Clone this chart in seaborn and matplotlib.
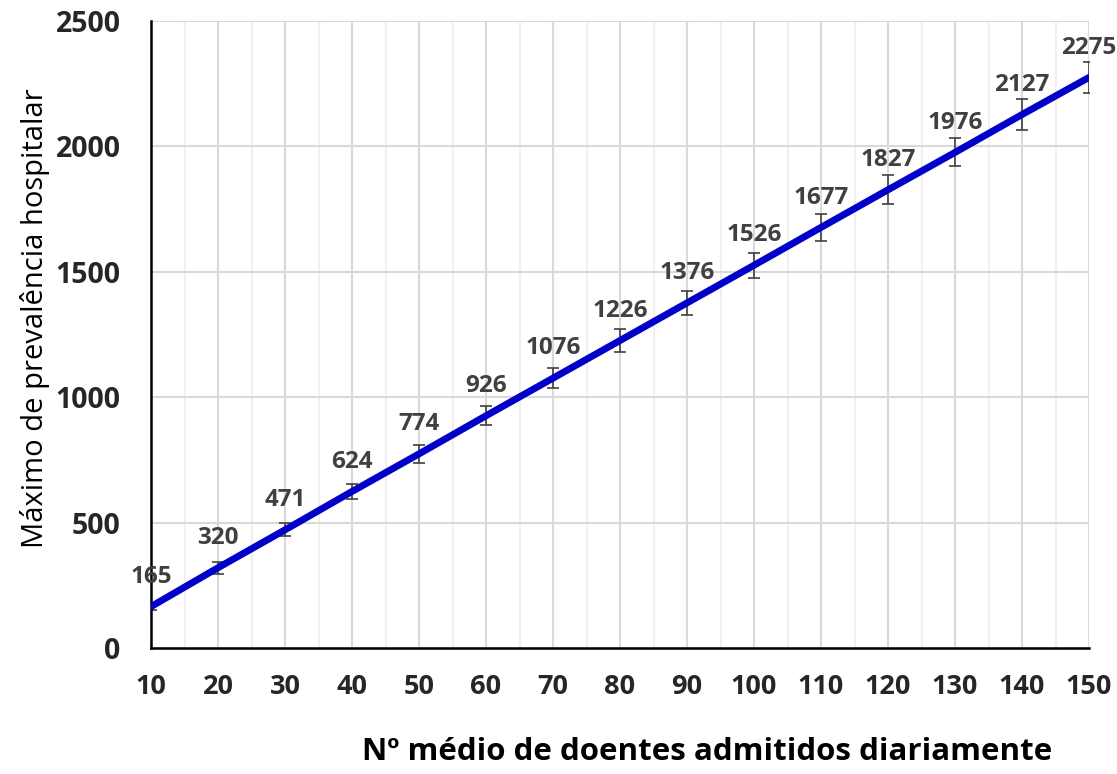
import numpy as np
import pandas as pd
import seaborn as sns
import matplotlib.pyplot as plt
from matplotlib.ticker import MultipleLocator

# daily admissions vs max hospital prevalence
admitidos = [10, 20, 30, 40, 50, 60, 70, 80, 90, 100, 110, 120, 130, 140, 150]
prevalencia = [165, 320, 471, 624, 774, 926, 1076, 1226, 1376, 1526, 1677, 1827, 1976, 2127, 2275]
erro = [15, 23, 26, 29, 36, 38, 41, 46, 48, 50, 53, 57, 56, 60, 61]

df = pd.DataFrame({'admitidos': admitidos, 'prevalencia': prevalencia, 'erro': erro})

sns.set_style('white')
plt.rcParams['font.family'] = ['Open Sans', 'DejaVu Sans']

fig = plt.figure(figsize=(11.17, 7.74), dpi=100)
ax = fig.add_axes([0.1352, 0.1628, 0.975 - 0.1352, 0.9729 - 0.1628])

ax.errorbar(df['admitidos'], df['prevalencia'], yerr=df['erro'], fmt='none',
            ecolor='#404040', elinewidth=1.2, capsize=4, capthick=1.2, zorder=2)
sns.lineplot(data=df, x='admitidos', y='prevalencia', color='#0000C8', linewidth=5,
             ax=ax, zorder=3)

for xv, yv in zip(admitidos, prevalencia):
    ax.annotate(f'{yv}', (xv, yv), xytext=(0, 21.5), textcoords='offset points',
                ha='center', va='center', fontsize=17.5, fontweight='bold', color='#404040')

ax.set_xlim(10, 150)
ax.set_ylim(0, 2500)
ax.xaxis.set_major_locator(MultipleLocator(10))
ax.xaxis.set_minor_locator(MultipleLocator(5))
ax.yaxis.set_major_locator(MultipleLocator(500))

ax.grid(which='major', axis='both', color='#d9d9d9', linewidth=1.5)
ax.grid(which='minor', axis='x', color='#f0f0f0', linewidth=1.5)
ax.set_axisbelow(True)

for s in ['top', 'right']:
    ax.spines[s].set_visible(False)
for s in ['left', 'bottom']:
    ax.spines[s].set_color('black')
    ax.spines[s].set_linewidth(1.8)

ax.tick_params(axis='x', which='major', direction='in', length=7, width=1.5,
               color='black', labelsize=19.5, pad=19)
ax.tick_params(axis='x', which='minor', length=0)
ax.tick_params(axis='y', length=0, labelsize=20.5, pad=22)
for lab in ax.get_xticklabels() + ax.get_yticklabels():
    lab.set_fontweight('bold')

ax.set_xlabel('')
ax.set_ylabel('')
fig.text(0.633, 0.028, 'Nº médio de doentes admitidos diariamente', ha='center', va='center',
         fontsize=22.5, fontweight='bold', color='black')
fig.text(0.031, 0.589, 'Máximo de prevalência hospitalar', ha='center', va='center',
         rotation=90, fontsize=21, color='black')

fig.savefig('out.png', dpi=100)
